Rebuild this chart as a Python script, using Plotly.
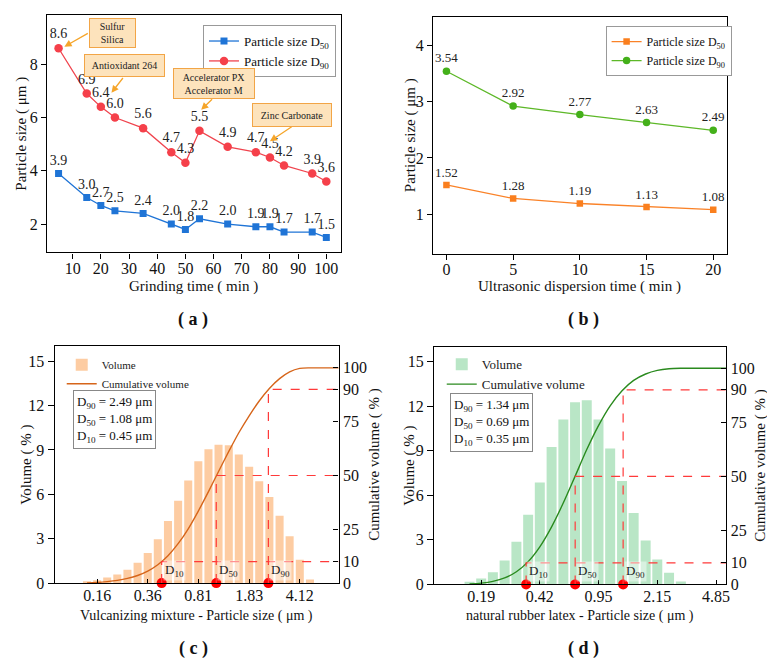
import numpy as np
import plotly.graph_objects as go

FONT = "Liberation Serif, Times New Roman, serif"
W, H = 775, 665

# ---------------- data ----------------
# (a) grinding time
grind_time = [5, 15, 20, 25, 35, 45, 50, 55, 65, 75, 80, 85, 95, 100]
grind_d50 = [3.9, 3.0, 2.7, 2.5, 2.4, 2.0, 1.8, 2.2, 2.0, 1.9, 1.9, 1.7, 1.7, 1.5]
grind_d90 = [8.6, 6.9, 6.4, 6.0, 5.6, 4.7, 4.3, 5.5, 4.9, 4.7, 4.5, 4.2, 3.9, 3.6]

# (b) ultrasonic dispersion time
ultra_time = [0, 5, 10, 15, 20]
ultra_d50 = [1.52, 1.28, 1.19, 1.13, 1.08]
ultra_d90 = [3.54, 2.92, 2.77, 2.63, 2.49]

# (c) vulcanizing mixture size distribution
vm_size = [0.136, 0.16, 0.188, 0.221, 0.26, 0.306, 0.36, 0.423, 0.498, 0.586, 0.689,
           0.81, 0.953, 1.12, 1.32, 1.55, 1.83, 2.15, 2.53, 2.98, 3.5, 4.12, 4.85,
           5.7, 6.7, 7.9]
vm_volume = [0.1, 0.2, 0.38, 0.58, 0.91, 1.38, 2.04, 2.96, 4.2, 5.56, 6.93,
             8.24, 9.04, 9.35, 9.31, 8.69, 7.87, 6.89, 5.82, 4.56, 3.16, 1.58, 0.25,
             0, 0, 0]
vm_tickvals = [0.16, 0.36, 0.81, 1.83, 4.12]
vm_ticktext = ["0.16", "0.36", "0.81", "1.83", "4.12"]
vm_D = [0.45, 1.08, 2.49]

# (d) natural rubber latex size distribution
nr_size = [0.16, 0.188, 0.221, 0.26, 0.306, 0.36, 0.423, 0.498, 0.586, 0.689, 0.81,
           0.953, 1.12, 1.32, 1.55, 1.83, 2.15, 2.53, 2.98, 3.5, 4.12, 4.85, 5.7, 6.7]
nr_volume = [0.17, 0.4, 0.82, 1.6, 2.87, 4.68, 6.85, 9.25, 11.1, 12.25, 12.4,
             11.1, 9.15, 6.95, 4.8, 2.96, 1.67, 0.78, 0.2, 0, 0, 0, 0, 0]
nr_tickvals = [0.188, 0.423, 0.953, 2.15, 4.85]
nr_ticktext = ["0.19", "0.42", "0.95", "2.15", "4.85"]
nr_D = [0.35, 0.69, 1.34]

D_names = ["D<sub>10</sub>", "D<sub>50</sub>", "D<sub>90</sub>"]
D_pct = [10, 50, 90]

# ---------------- helpers ----------------
def px(p):
    return p / W


def py(p):
    return 1 - p / H


VM_XRANGE = [-1.091, 0.885]
NR_XRANGE = [-1.009, 0.747]

fig = go.Figure()

# ---- (a) ----
fig.add_trace(go.Scatter(
    x=grind_time, y=grind_d50, mode="lines+markers+text", name="Particle size D<sub>50</sub>",
    line=dict(color="#1F74D6", width=1.3), marker=dict(symbol="square", size=7, color="#1F74D6"),
    text=[f"{v:.1f}" for v in grind_d50], textposition="top center",
    textfont=dict(family=FONT, size=14, color="#222"), xaxis="x", yaxis="y", legend="legend"))
fig.add_trace(go.Scatter(
    x=grind_time, y=grind_d90, mode="lines+markers+text", name="Particle size D<sub>90</sub>",
    line=dict(color="#F0444E", width=1.3), marker=dict(symbol="circle", size=8.5, color="#F5404A"),
    text=[f"{v:.1f}" for v in grind_d90], textposition="top center",
    textfont=dict(family=FONT, size=14, color="#222"), xaxis="x", yaxis="y", legend="legend"))

# ---- (b) ----
fig.add_trace(go.Scatter(
    x=ultra_time, y=ultra_d50, mode="lines+markers+text", name="Particle size D<sub>50</sub>",
    line=dict(color="#FA8228", width=1.3), marker=dict(symbol="square", size=6.5, color="#FA7F1E"),
    text=[f"{v:.2f}" for v in ultra_d50], textposition="top center",
    textfont=dict(family=FONT, size=13, color="#222"), xaxis="x2", yaxis="y2", legend="legend2"))
fig.add_trace(go.Scatter(
    x=ultra_time, y=ultra_d90, mode="lines+markers+text", name="Particle size D<sub>90</sub>",
    line=dict(color="#5DB828", width=1.3), marker=dict(symbol="circle", size=7.5, color="#44B01A"),
    text=[f"{v:.2f}" for v in ultra_d90], textposition="top center",
    textfont=dict(family=FONT, size=13, color="#222"), xaxis="x2", yaxis="y2", legend="legend2"))


def dist_panel(size, volume, D, xa, ya, yr, lg, bar_color, curve_color, width, xmax):
    lx = np.log10(size)
    fig.add_trace(go.Bar(
        x=lx, y=volume, width=width, name="Volume", marker=dict(color=bar_color, line=dict(width=0)),
        xaxis=xa, yaxis=ya, legend=lg))
    fig.add_trace(go.Scatter(
        x=lx, y=np.cumsum(volume), mode="lines", name="Cumulative volume",
        line=dict(color=curve_color, width=1.4, shape="spline", smoothing=0.8),
        xaxis=xa, yaxis=yr, legend=lg))
    for d, p in zip(D, D_pct):
        ld = np.log10(d)
        fig.add_trace(go.Scatter(
            x=[ld, ld, xmax], y=[0, p, p], mode="lines", showlegend=False,
            line=dict(color="#FF3A3A", width=1.2, dash="dash"), xaxis=xa, yaxis=yr))
    fig.add_trace(go.Scatter(
        x=np.log10(D), y=[0] * len(D), mode="markers", showlegend=False, cliponaxis=False,
        marker=dict(color="#FF0000", size=10), xaxis=xa, yaxis=ya))
    for d, name in zip(D, D_names):
        fig.add_annotation(x=np.log10(d), y=0, xref=xa, yref=ya, text=name, showarrow=False,
                           xanchor="left", yanchor="bottom", xshift=1, yshift=2,
                           bgcolor="rgba(255,255,255,0.45)",
                           font=dict(family=FONT, size=13, color="#222"))


dist_panel(vm_size, vm_volume, vm_D, "x3", "y3", "y5", "legend3", "#FDCCA2", "#D6651A", 0.056,
           VM_XRANGE[1])
dist_panel(nr_size, nr_volume, nr_D, "x4", "y4", "y6", "legend4", "#B9E6C6", "#2A8A1E", 0.06,
           NR_XRANGE[1])

# ---------------- axes ----------------
base = dict(showline=True, linecolor="black", linewidth=1.4, mirror=True, showgrid=False,
            zeroline=False, tickcolor="black", tickwidth=1.3)
tf16 = dict(family=FONT, size=16, color="#111")
tf15 = dict(family=FONT, size=16, color="#111")

fig.update_layout(
    xaxis=dict(base, domain=[px(39.3), px(334.3)], range=[0.93, 105.06], anchor="y",
               tickvals=list(range(10, 101, 10)), ticks="outside", ticklen=5, tickfont=tf16,
               ticklabelstandoff=-4),
    yaxis=dict(base, domain=[py(247.7), py(7.3)], range=[0.94, 9.84], anchor="x",
               tickvals=[2, 4, 6, 8], ticks="outside", ticklen=5, tickfont=tf16),
    xaxis2=dict(base, domain=[px(427.3), px(722.3)], range=[-1, 21], anchor="y2",
                tickvals=[0, 5, 10, 15, 20], ticks="outside", ticklen=5, tickfont=tf16,
                ticklabelstandoff=-4),
    yaxis2=dict(base, domain=[py(249), py(9.3)], range=[0.3, 4.5], anchor="x2",
                tickvals=[1, 2, 3, 4], ticks="outside", ticklen=5, tickfont=tf16),
    xaxis3=dict(base, domain=[px(47), px(332.3)], range=VM_XRANGE, anchor="y3",
                tickvals=list(np.log10(vm_tickvals)), ticktext=vm_ticktext,
                ticks="inside", ticklen=4, tickfont=tf15, ticklabelstandoff=-3),
    yaxis3=dict(base, domain=[py(583), py(343)], range=[0, 16], anchor="x3",
                tickvals=[0, 3, 6, 9, 12, 15], ticks="outside", ticklen=6, tickfont=tf15),
    yaxis5=dict(base, overlaying="y3", side="right", anchor="x3", range=[0, 110],
                tickvals=[0, 10, 25, 50, 75, 90, 100], ticks="inside", ticklen=5,
                tickfont=tf15, mirror=False),
    xaxis4=dict(base, domain=[px(428.3), px(722)], range=NR_XRANGE, anchor="y4",
                tickvals=list(np.log10(nr_tickvals)), ticktext=nr_ticktext,
                ticks="inside", ticklen=4, tickfont=tf15, ticklabelstandoff=-3),
    yaxis4=dict(base, domain=[py(584.3), py(343.3)], range=[0, 16], anchor="x4",
                tickvals=[0, 3, 6, 9, 12, 15], ticks="outside", ticklen=6, tickfont=tf15),
    yaxis6=dict(base, overlaying="y4", side="right", anchor="x4", range=[0, 110],
                tickvals=[0, 10, 25, 50, 75, 90, 100], ticks="inside", ticklen=5,
                tickfont=tf15, mirror=False),
)

# ---------------- legends ----------------
fig.update_layout(
    legend=dict(x=px(196), y=py(17.3), xanchor="left", yanchor="top", bgcolor="white",
                bordercolor="#999", borderwidth=1, font=dict(family=FONT, size=13, color="#111"),
                tracegroupgap=0),
    legend2=dict(x=px(600.7), y=py(18.3), xanchor="left", yanchor="top", bgcolor="white",
                 bordercolor="#999", borderwidth=1, font=dict(family=FONT, size=12, color="#111"),
                 tracegroupgap=0),
    legend3=dict(x=px(54), y=py(347), xanchor="left", yanchor="top", bgcolor="rgba(0,0,0,0)",
                 borderwidth=0, font=dict(family=FONT, size=11, color="#222"), tracegroupgap=0),
    legend4=dict(x=px(436), y=py(346), xanchor="left", yanchor="top", bgcolor="rgba(0,0,0,0)",
                 borderwidth=0, font=dict(family=FONT, size=13, color="#222"), tracegroupgap=0),
)

# ---------------- text annotations ----------------
def ptext(x, y, text, size, angle=0):
    fig.add_annotation(x=px(x), y=py(y), xref="paper", yref="paper", text=text, showarrow=False,
                       textangle=angle, xanchor="center", yanchor="middle",
                       font=dict(family=FONT, size=size, color="#111"))


# axis titles
ptext(186.8, 282.7, "Grinding time ( min )", 15)
ptext(14, 127.5, "Particle size ( μm )", 15, angle=-90)
ptext(574.8, 282.3, "Ultrasonic dispersion time ( min )", 15)
ptext(404, 129, "Particle size ( μm )", 15, angle=-90)
ptext(189.7, 616.7, "Vulcanizing mixture - Particle size ( μm )", 14)
ptext(19, 463, "Volume ( % )", 15, angle=-90)
ptext(369, 463, "Cumulative volume ( % )", 15, angle=-90)
ptext(575.2, 616.7, "natural rubber latex - Particle size ( μm )", 14)
ptext(404, 464, "Volume ( % )", 15, angle=-90)
ptext(757, 464, "Cumulative volume ( % )", 15, angle=-90)

# panel labels
for x, y, t in [(186, 315.7, "<b>( a )</b>"), (578, 315.7, "<b>( b )</b>"),
                (186, 649.3, "<b>( c )</b>"), (578, 649.3, "<b>( d )</b>")]:
    ptext(x, y, t, 18)

# D value boxes
for cx, cy, txt in [(107.5, 417, "D<sub>90</sub> = 2.49 μm<br>D<sub>50</sub> = 1.08 μm<br>D<sub>10</sub> = 0.45 μm"),
                    (485.8, 419.8, "D<sub>90</sub> = 1.34 μm<br>D<sub>50</sub> = 0.69 μm<br>D<sub>10</sub> = 0.35 μm")]:
    fig.add_annotation(x=px(cx), y=py(cy), xref="paper", yref="paper", text=txt, showarrow=False,
                       align="left", xanchor="center", yanchor="middle", bgcolor="white",
                       bordercolor="#888", borderwidth=1, borderpad=3,
                       font=dict(family=FONT, size=13, color="#111"))

# ingredient call-outs in (a)
callouts = [
    ("Sulfur<br>Silica", 24.3, 9.18, 43, 26, (15.9, 9.19), (7.07, 8.66)),
    ("Antioxidant 264", 28.36, 7.96, 77, 19, (28.25, 7.54), (23.77, 6.93)),
    ("Accelerator PX<br>Accelerator M", 60.02, 7.27, 78, 27, (60.0, 6.74), (55.6, 6.29)),
    ("Zinc Carbonate", 87.95, 6.09, 76, 20, (88.25, 5.69), (80.0, 5.11)),
]
for txt, cx, cy, w, h, tail, head in callouts:
    fig.add_annotation(x=head[0], y=head[1], ax=tail[0], ay=tail[1], xref="x", yref="y",
                       axref="x", ayref="y", text="", showarrow=True, arrowhead=2,
                       arrowsize=1.1, arrowwidth=1.3, arrowcolor="#F5A52A", standoff=0)
    fig.add_annotation(x=cx, y=cy, xref="x", yref="y", text=txt, showarrow=False,
                       width=w, height=h, bgcolor="#FDE3BC", bordercolor="#F2A546",
                       borderwidth=1, borderpad=1, align="center",
                       font=dict(family=FONT, size=10, color="#222"))

fig.update_layout(width=W, height=H, margin=dict(l=0, r=0, t=0, b=0),
                  paper_bgcolor="white", plot_bgcolor="white", showlegend=True,
                  barmode="overlay", font=dict(family=FONT))

fig.write_html("out.html")
